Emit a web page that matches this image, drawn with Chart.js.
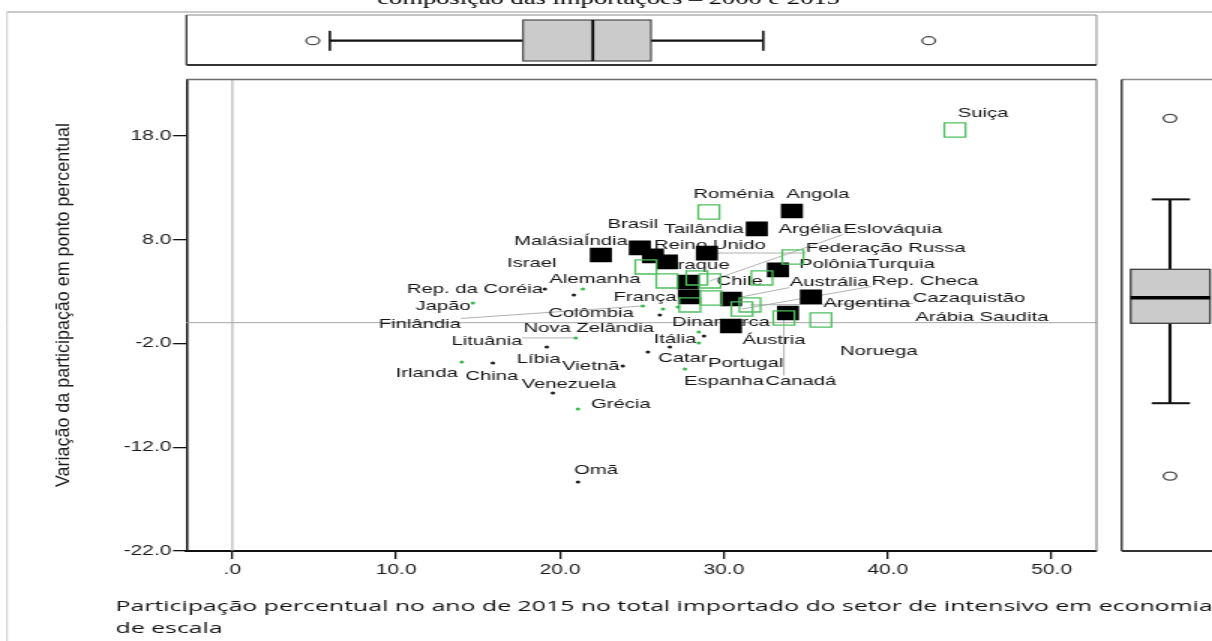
<!DOCTYPE html>
<html>
<head>
<meta charset="utf-8">
<script src="https://cdn.jsdelivr.net/npm/chart.js@4/dist/chart.umd.min.js"></script>
<style>
  html, body { margin: 0; padding: 0; background: #fff; overflow: hidden; }
  canvas { display: block; }
</style>
</head>
<body>
<!-- drawn at 808 px wide and shown 1.5x wider, like the stretched SPSS export -->
<canvas id="chart" width="808" height="641" style="width:1212px;height:641px"></canvas>
<script>
const STRETCH = 1.5;

// Countries, 2015 share (x) and change in percentage points (y)
const countries = [
  'Suiça','Roménia','Angola','Tailândia','Brasil','Índia','Israel','Reino Unido','Federação Russa','Polônia',
  'Chile','França','Austrália','Argentina','Áustria','Dinamarca','Argélia','Turquia','Malásia','',
  'Iraque','Eslováquia','','Noruega','Rep. Checa','Cazaquistão','Canadá','Arábia Saudita','Rep. da Coréia','',
  'Colômbia','Líbia','China','Catar','','Vietnã','Itália','Venezuela','Omã','Alemanha',
  'Japão','Finlândia','','','Lituânia','Irlanda','Espanha','Nova Zelândia','Portugal','Grécia'
];
const share2015 = [
  44.10, 29.08, 34.15, 32.01, 25.67, 24.87, 22.49, 26.52, 28.96, 33.30,
  27.80, 27.86, 30.43, 35.31, 33.91, 30.43, 34.21, 32.32, 25.24, 26.52,
  28.35, 29.15, 27.92, 29.21, 31.10, 31.59, 33.66, 35.92, 19.07, 20.84,
  26.09, 19.19, 15.90, 25.36, 26.70, 23.83, 28.78, 19.56, 21.09, 21.39,
  14.68, 25.05, 26.28, 27.19, 20.96, 14.00, 27.62, 28.47, 28.47, 21.09
];
const changePP = [
  18.56, 10.66, 10.76, 9.03, 6.43, 7.20, 6.52, 5.85, 6.71, 5.08,
  3.92, 2.48, 2.28, 2.48, 0.93, -0.32, 6.33, 4.31, 5.37, 4.02,
  4.31, 4.02, 1.71, 2.38, 1.32, 1.71, 0.45, 0.26, 3.25, 2.67,
  0.74, -2.34, -3.88, -2.82, -2.34, -4.17, -1.28, -6.77, -15.35, 3.25,
  1.90, 1.61, 1.32, 1.51, -1.47, -3.79, -4.46, -0.90, -1.96, -8.31
];
// G = green open square, B = black square, g = small green dot, b = small black dot
const markerKind = [
  'G','G','B','B','B','B','B','B','B','B',
  'B','B','B','B','B','B','G','G','G','G',
  'G','G','G','G','G','G','G','G','b','b',
  'b','b','b','b','b','b','b','b','b','g',
  'g','g','g','g','g','g','g','g','g','g'
];

// Axis ticks
const xTickValues = [0, 10, 20, 30, 40, 50];
const yTickValues = [-22, -12, -2, 8, 18];

// Marginal box plots: [lower whisker, Q1, median, Q3, upper whisker]
const shareBox = [5.95, 17.74, 22.0, 25.55, 32.4];
const shareOutliers = [4.91, 42.5];
const changeBox = [-7.76, -0.06, 2.4, 5.14, 11.88];
const changeOutliers = [-14.78, 19.69];

// Label placement (screen px from the marker centre) and labels joined by a leader line
const labelOffsets = [
  [28,-17],[25,-18],[26,-17],[-53,0],[-20,-32],[-34,-7],[-69,8],[43,-17],[179,-5],[55,-6],
  [52,-1],[-44,0],[98,-17],[56,6],[-14,27],[-10,-4],[17,-28],[139,-14],[-97,-26],[0,0],
  [4,-13],[183,-52],[0,0],[168,53],[183,-28],[219,-7],[17,63],[161,-3],[-70,0],[0,0],
  [-69,-2],[-8,12],[-1,13],[35,6],[0,0],[-32,0],[-29,3],[16,-9],[18,-12],[12,-10],
  [-30,3],[-223,18],[0,0],[0,0],[-89,3],[-35,11],[39,12],[-110,-4],[47,20],[43,-5]
];
const leaderLabels = ['Federação Russa','Austrália','Eslováquia','Rep. Checa','Cazaquistão','Canadá','Finlândia','Lituânia'];

function pointsOf(kind) {
  const out = [];
  countries.forEach((c, i) => {
    if (markerKind[i] === kind) out.push({ x: share2015[i], y: changePP[i] });
  });
  return out;
}

function seg(ctx, x1, y1, x2, y2) {
  ctx.beginPath(); ctx.moveTo(x1, y1); ctx.lineTo(x2, y2); ctx.stroke();
}
function ring(ctx, x, y) {
  ctx.beginPath(); ctx.ellipse(x, y, 4.4, 4, 0, 0, Math.PI * 2);
  ctx.fillStyle = '#fff'; ctx.fill();
  ctx.strokeStyle = '#4a4a4a'; ctx.lineWidth = 1.3; ctx.stroke();
}

const LABEL_FONT = '13.5px "Liberation Sans", Arial, sans-serif';

const scatterDecor = {
  id: 'scatterDecor',
  beforeDatasetsDraw(chart) {
    const { ctx, chartArea: a, scales: { x: sx, y: sy } } = chart;
    ctx.save();
    // reference lines at 0
    ctx.strokeStyle = '#a8a8a8'; ctx.lineWidth = 1;
    const x0 = sx.getPixelForValue(0), y0 = sy.getPixelForValue(0);
    seg(ctx, x0, a.top, x0, a.bottom);
    seg(ctx, a.left, y0, a.right, y0);

    ctx.font = LABEL_FONT;
    ctx.textAlign = 'center';
    ctx.textBaseline = 'middle';
    const placed = [];
    countries.forEach((name, i) => {
      if (!name) return;
      const px = sx.getPixelForValue(share2015[i]);
      const py = sy.getPixelForValue(changePP[i]);
      const lx = px + labelOffsets[i][0] / STRETCH;
      const ly = py + labelOffsets[i][1];
      placed.push({ name, px, py, lx, ly });
    });
    // leader lines first
    ctx.strokeStyle = '#9d9d9d'; ctx.lineWidth = 0.8;
    placed.forEach(p => {
      if (!leaderLabels.includes(p.name)) return;
      const w = ctx.measureText(p.name).width, h = 11;
      const nx = Math.min(Math.max(p.px, p.lx - w / 2), p.lx + w / 2);
      const ny = Math.min(Math.max(p.py, p.ly - h / 2), p.ly + h / 2);
      seg(ctx, p.px, p.py, nx, ny);
    });
    ctx.fillStyle = '#141414';
    placed.forEach(p => ctx.fillText(p.name, p.lx, p.ly));
    ctx.restore();
  },
  afterDraw(chart) {
    const { ctx, chartArea: a, scales: { x: sx, y: sy } } = chart;
    const W = chart.width;
    ctx.save();

    // outer frame
    ctx.strokeStyle = '#cacaca'; ctx.lineWidth = 2;
    seg(ctx, 4.7, 12, W, 12);
    ctx.lineWidth = 1;
    seg(ctx, 4.7, 12, 4.7, chart.height);

    // plot frame, top and right edges
    ctx.strokeStyle = '#6e6e6e'; ctx.lineWidth = 1.5;
    seg(ctx, a.left, a.top, a.right, a.top);
    ctx.lineWidth = 1;
    seg(ctx, a.right, a.top, a.right, a.bottom);

    // top marginal box plot (x variable)
    const pt = 15, pb = 65, cy = 40.7, bt = 20, bb = 61;
    ctx.strokeStyle = '#8c8c8c'; ctx.lineWidth = 1;
    seg(ctx, a.left, pt, a.right, pt);
    seg(ctx, a.right, pt, a.right, pb);
    ctx.strokeStyle = '#333'; ctx.lineWidth = 2;
    seg(ctx, a.left, pb, a.right, pb);
    ctx.lineWidth = 1.3;
    seg(ctx, a.left, pt, a.left, pb);
    const [xl, xq1, xm, xq3, xh] = shareBox.map(v => sx.getPixelForValue(v));
    ctx.strokeStyle = '#111'; ctx.lineWidth = 2.2;
    seg(ctx, xl, cy, xq1, cy); seg(ctx, xq3, cy, xh, cy);
    ctx.lineWidth = 1.6;
    seg(ctx, xl, cy - 10, xl, cy + 10); seg(ctx, xh, cy - 10, xh, cy + 10);
    ctx.fillStyle = '#cbcbcb'; ctx.fillRect(xq1, bt, xq3 - xq1, bb - bt);
    ctx.strokeStyle = '#3c3c3c'; ctx.lineWidth = 1.1; ctx.strokeRect(xq1, bt, xq3 - xq1, bb - bt);
    ctx.strokeStyle = '#000'; ctx.lineWidth = 1.8;
    seg(ctx, xm, bt, xm, bb);
    shareOutliers.forEach(v => ring(ctx, sx.getPixelForValue(v), cy));

    // right marginal box plot (y variable)
    const rl = 747.8, rcx = 780, rbl = 753.8, rbr = 806.7, rcl = 767.8, rcr = 793.3;
    ctx.strokeStyle = '#8c8c8c'; ctx.lineWidth = 1.5;
    seg(ctx, rl, a.top, W, a.top);
    ctx.strokeStyle = '#333'; ctx.lineWidth = 1.4;
    seg(ctx, rl, a.top, rl, a.bottom);
    ctx.lineWidth = 2;
    seg(ctx, rl, a.bottom, W, a.bottom);
    const [yl, yq1, ym, yq3, yh] = changeBox.map(v => sy.getPixelForValue(v));
    ctx.strokeStyle = '#111'; ctx.lineWidth = 2.1;
    seg(ctx, rcx, yh, rcx, yq3); seg(ctx, rcx, yq1, rcx, yl);
    ctx.lineWidth = 2;
    seg(ctx, rcl, yh, rcr, yh); seg(ctx, rcl, yl, rcr, yl);
    ctx.fillStyle = '#cbcbcb'; ctx.fillRect(rbl, yq3, rbr - rbl, yq1 - yq3);
    ctx.strokeStyle = '#3c3c3c'; ctx.lineWidth = 1.3; ctx.strokeRect(rbl, yq3, rbr - rbl, yq1 - yq3);
    ctx.strokeStyle = '#000'; ctx.lineWidth = 3.5;
    seg(ctx, rbl, ym, rbr, ym);
    changeOutliers.forEach(v => ring(ctx, rcx, sy.getPixelForValue(v)));

    // chart title (runs off the top edge)
    ctx.fillStyle = '#000';
    ctx.font = '17.7px "Liberation Serif", "Times New Roman", serif';
    ctx.textAlign = 'center'; ctx.textBaseline = 'alphabetic';
    ctx.fillText('composição das importações – 2000 e 2015', 405.7, 3.5);

    // y axis title
    const yTitle = 'Variação da participação em ponto percentual';
    ctx.save();
    ctx.translate(42.3, 305);
    ctx.rotate(-Math.PI / 2);
    ctx.font = '12px "Liberation Sans", Arial, sans-serif';
    const yw = ctx.measureText(yTitle).width;
    ctx.scale(364 / yw, 1);
    ctx.textAlign = 'center'; ctx.textBaseline = 'middle';
    ctx.fillStyle = '#1a1a1a';
    ctx.fillText(yTitle, 0, 0);
    ctx.restore();

    // x axis title, two lines
    const xTitle1 = 'Participação percentual no ano de 2015 no total importado do setor de intensivo em economia';
    const xTitle2 = 'de escala';
    ctx.save();
    ctx.font = '15px "Open Sans", Lato, sans-serif';
    const xw = ctx.measureText(xTitle1).width;
    ctx.translate(77, 607);
    ctx.scale(731.5 / xw, 1);
    ctx.textAlign = 'left'; ctx.textBaseline = 'middle';
    ctx.fillStyle = '#111';
    ctx.fillText(xTitle1, 0, 0);
    ctx.fillText(xTitle2, 0, 22);
    ctx.restore();

    ctx.restore();
  }
};

const fmt = v => (v === 0 ? '.0' : Number(v).toFixed(1));

new Chart(document.getElementById('chart'), {
  type: 'scatter',
  data: {
    datasets: [
      { label: 'pontos verdes', data: pointsOf('g'), pointStyle: 'circle', pointRadius: 1.5,
        pointBackgroundColor: '#35b84a', pointBorderWidth: 0, order: 0 },
      { label: 'pontos pretos', data: pointsOf('b'), pointStyle: 'circle', pointRadius: 1.5,
        pointBackgroundColor: '#1a1a1a', pointBorderWidth: 0, order: 0 },
      { label: 'quadrados verdes', data: pointsOf('G'), pointStyle: 'rect', pointRadius: 10,
        pointBackgroundColor: 'rgba(255,255,255,0)', pointBorderColor: '#4fbf5e', pointBorderWidth: 1.3, order: 1 },
      { label: 'quadrados pretos', data: pointsOf('B'), pointStyle: 'rect', pointRadius: 10.4,
        pointBackgroundColor: '#000', pointBorderColor: '#000', pointBorderWidth: 0, order: 2 }
    ]
  },
  options: {
    responsive: false,
    devicePixelRatio: 1,
    animation: false,
    events: [],
    layout: { padding: { left: 0, right: 77, top: 79.5, bottom: 0 } },
    plugins: { legend: { display: false }, tooltip: { enabled: false } },
    scales: {
      x: {
        type: 'linear', min: -2.8, max: 52.74,
        afterBuildTicks: s => { s.ticks = xTickValues.map(v => ({ value: v })); },
        afterFit: s => { s.height = 90; },
        grid: { drawOnChartArea: false, drawTicks: true, tickLength: 8, color: '#111', lineWidth: 1.3 },
        border: { display: true, color: '#111', width: 2 },
        ticks: { autoSkip: false, maxRotation: 0, padding: 3, color: '#1c1c1c',
                 font: { family: '"Liberation Sans", Arial, sans-serif', size: 14 }, callback: fmt }
      },
      y: {
        type: 'linear', min: -22, max: 23.43,
        afterBuildTicks: s => { s.ticks = yTickValues.map(v => ({ value: v })); },
        afterFit: s => { s.width = 124.33; },
        grid: { drawOnChartArea: false, drawTicks: true, tickLength: 9, color: '#111', lineWidth: 1.3 },
        border: { display: true, color: '#111', width: 1.5 },
        ticks: { autoSkip: false, padding: 1, color: '#1c1c1c',
                 font: { family: '"Liberation Sans", Arial, sans-serif', size: 14 }, callback: fmt }
      }
    }
  },
  plugins: [scatterDecor]
});
</script>
</body>
</html>
